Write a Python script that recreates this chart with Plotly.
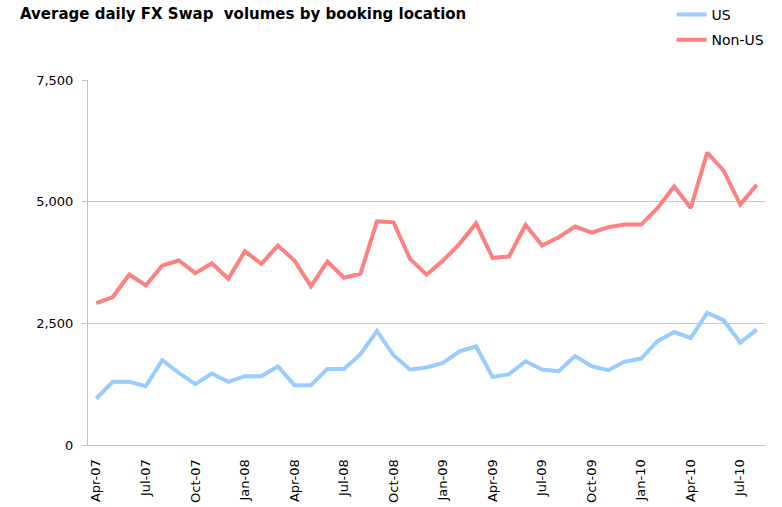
import plotly.graph_objects as go

months = ["Apr-07","May-07","Jun-07","Jul-07","Aug-07","Sep-07","Oct-07","Nov-07","Dec-07",
          "Jan-08","Feb-08","Mar-08","Apr-08","May-08","Jun-08","Jul-08","Aug-08","Sep-08",
          "Oct-08","Nov-08","Dec-08","Jan-09","Feb-09","Mar-09","Apr-09","May-09","Jun-09",
          "Jul-09","Aug-09","Sep-09","Oct-09","Nov-09","Dec-09","Jan-10","Feb-10","Mar-10",
          "Apr-10","May-10","Jun-10","Jul-10","Aug-10"]

us = [956, 1298, 1298, 1209, 1742, 1482, 1250, 1469, 1298, 1414, 1414, 1619, 1230, 1230,
      1564, 1564, 1865, 2343, 1844, 1551, 1592, 1687, 1926, 2029, 1400, 1455, 1721, 1551,
      1516, 1830, 1619, 1537, 1715, 1776, 2137, 2322, 2199, 2719, 2561, 2104, 2370]

non_us = [2916, 3040, 3504, 3279, 3689, 3791, 3531, 3736, 3415, 3982, 3723, 4098, 3791, 3258,
          3770, 3436, 3518, 4597, 4576, 3825, 3500, 3791, 4133, 4556, 3846, 3873, 4522, 4098,
          4269, 4488, 4365, 4474, 4529, 4529, 4870, 5314, 4870, 6010, 5635, 4939, 5348]

tick_labels = ["Apr-07","Jul-07","Oct-07","Jan-08","Apr-08","Jul-08","Oct-08",
               "Jan-09","Apr-09","Jul-09","Oct-09","Jan-10","Apr-10","Jul-10"]
y_ticks = [0, 2500, 5000, 7500]

idx = list(range(len(months)))
tick_idx = [months.index(t) for t in tick_labels]

FONT = "DejaVu Sans, Verdana, sans-serif"

fig = go.Figure()
fig.add_trace(go.Scatter(x=idx, y=us, name="US", mode="lines",
                         line=dict(color="#99CCFF", width=4), legendgroup="a"))
fig.add_trace(go.Scatter(x=idx, y=non_us, name="Non-US", mode="lines",
                         line=dict(color="#FF8080", width=4), legendgroup="b"))

fig.update_layout(
    width=782, height=507,
    margin=dict(l=88, r=17, t=80, b=62, autoexpand=False),
    paper_bgcolor="white", plot_bgcolor="white",
    font=dict(family=FONT, size=13, color="#000000"),
    title=dict(text="<b>Average daily FX Swap  volumes by booking location</b>",
               x=20/782, xanchor="left", xref="container",
               y=1-14/507, yanchor="middle", yref="container",
               pad=dict(l=0, r=0, t=0, b=0),
               font=dict(family=FONT, size=15, color="#000000")),
    legend=dict(x=0.862, xanchor="left", y=1.222, yanchor="top",
                font=dict(family=FONT, size=14, color="#000000"),
                tracegroupgap=4, bgcolor="rgba(0,0,0,0)"),
    showlegend=True,
)
fig.update_xaxes(range=[-0.5, len(months) - 0.5], tickmode="array",
                 tickvals=tick_idx, ticktext=tick_labels, tickangle=-90,
                 showgrid=False, showline=True, linecolor="#C0C0C0", linewidth=1,
                 ticks="", automargin=False, ticklabelstandoff=8,
                 tickfont=dict(family=FONT, size=13, color="#000000"),
                 zeroline=False)
fig.update_yaxes(range=[0, 7500], tickmode="array", tickvals=y_ticks,
                 tickformat=",", showgrid=True, gridcolor="#C8C8C8", gridwidth=1,
                 showline=True, linecolor="#C0C0C0", linewidth=1,
                 ticks="outside", ticklen=5, tickcolor="#C0C0C0",
                 ticklabelstandoff=6, automargin=False,
                 tickfont=dict(family=FONT, size=13, color="#000000"),
                 zeroline=False)

fig.write_html("out.html", config={"displayModeBar": False},
               post_script="document.body.style.margin='0';document.body.style.padding='0';")
